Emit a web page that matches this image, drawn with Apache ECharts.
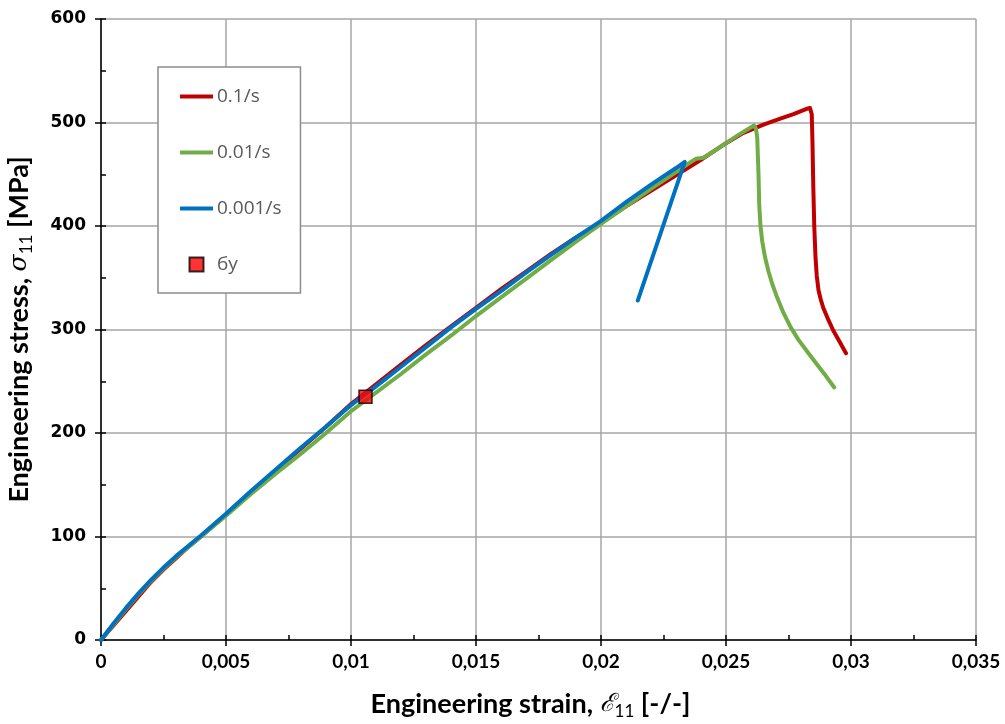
<!DOCTYPE html>
<html>
<head>
<meta charset="utf-8">
<script src="https://cdn.jsdelivr.net/npm/echarts@6/dist/echarts.min.js"></script>
<style>
  html, body { margin: 0; padding: 0; background: #fff; }
  #chart { width: 1005px; height: 724px; }
</style>
</head>
<body>
<div id="chart"></div>
<script>
// Tensile test curves: engineering strain [-] vs engineering stress [MPa]
const rate01 = [
  [0, 0], [0.0005, 14], [0.001, 28], [0.0015, 42], [0.002, 56], [0.0025, 68],
  [0.003, 79], [0.0035, 90], [0.004, 100], [0.005, 121], [0.006, 143],
  [0.007, 164], [0.008, 185], [0.009, 206], [0.01, 228], [0.011, 247],
  [0.012, 266], [0.013, 285], [0.014, 303], [0.015, 321], [0.016, 339],
  [0.017, 356], [0.018, 373], [0.019, 389], [0.02, 403], [0.021, 419],
  [0.022, 434], [0.023, 449], [0.024, 464], [0.025, 480], [0.0257, 490],
  [0.0265, 498], [0.0272, 504], [0.0277, 508], [0.0282, 513], [0.02836, 514],
  [0.02843, 508], [0.02846, 480], [0.02849, 440], [0.02853, 400], [0.02858, 370],
  [0.02863, 352], [0.0287, 338], [0.02879, 329], [0.02889, 321], [0.0291, 309],
  [0.02929, 299], [0.02955, 288], [0.0298, 277]
];
const rate001 = [
  [0, 0], [0.0005, 15], [0.001, 30], [0.0015, 44], [0.002, 57], [0.0025, 69],
  [0.003, 80], [0.0035, 90], [0.004, 100], [0.005, 120], [0.006, 141],
  [0.007, 161], [0.008, 180], [0.009, 200], [0.01, 221], [0.011, 239],
  [0.012, 257], [0.013, 276], [0.014, 294], [0.015, 313], [0.016, 331],
  [0.017, 349], [0.018, 367], [0.019, 385], [0.02, 402], [0.021, 419],
  [0.022, 436], [0.023, 452], [0.0236, 462], [0.0238, 465], [0.0241, 466],
  [0.0245, 472], [0.025, 480], [0.0255, 488], [0.0259, 494], [0.02612, 497],
  [0.0262, 494], [0.02625, 485], [0.0263, 450], [0.02633, 420], [0.02638, 400],
  [0.02645, 385], [0.02656, 370], [0.0267, 356], [0.02685, 344], [0.02703, 332],
  [0.0273, 316], [0.02759, 302], [0.0279, 290], [0.0283, 277], [0.02868, 265],
  [0.029, 255], [0.02933, 244]
];
const rate0001 = [
  [0, 0], [0.0005, 16], [0.001, 31], [0.0015, 45], [0.002, 58], [0.0025, 70],
  [0.003, 81], [0.0035, 91], [0.004, 101], [0.005, 122], [0.006, 144],
  [0.007, 165], [0.008, 186], [0.009, 206], [0.01, 227], [0.011, 245],
  [0.012, 264], [0.013, 283], [0.014, 302], [0.015, 320], [0.016, 337],
  [0.017, 355], [0.018, 372], [0.019, 389], [0.02, 405], [0.021, 423],
  [0.022, 440], [0.023, 456], [0.02335, 462], [0.0231, 444], [0.02223, 382],
  [0.02147, 328]
];
const yieldPoint = [[0.01058, 235]];

const seriesNames = ['0.1/s', '0.01/s', '0.001/s', 'бy'];
const seriesColors = ['#C00000', '#70AD47', '#0070C0'];

const xTicks = { min: 0, max: 0.035, major: 0.005, minor: 0.0025 };
const yTicks = { min: 0, max: 600, major: 100, minor: 50 };

const fmtStrain = v => v === 0 ? '0' : String(+v.toFixed(4)).replace('.', ',');

const chart = echarts.init(document.getElementById('chart'), null, { renderer: 'canvas' });

const titleRich = {
  b: { fontFamily: 'Lato', fontWeight: 'bold', fontSize: 27, color: '#000', lineHeight: 32 },
  g: { fontFamily: 'DejaVu Serif', fontStyle: 'italic', fontSize: 25, color: '#000', lineHeight: 32 },
  s: { fontFamily: 'Lato', fontWeight: 'normal', fontSize: 17, color: '#000', lineHeight: 17, verticalAlign: 'bottom' }
};

const lineIcon = 'path://M0,0 H33 V4 H0 Z';
const squareIcon = 'path://M0,0 H10 V10 H0 Z';

const lineSeries = [rate01, rate001, rate0001].map((d, i) => ({
  name: seriesNames[i],
  type: 'line',
  data: d,
  symbol: 'none',
  lineStyle: { width: 4, color: seriesColors[i], cap: 'round', join: 'round' },
  itemStyle: { color: seriesColors[i] },
  z: 2 + i
}));

chart.setOption({
  animation: false,
  grid: { left: 101, right: 29, top: 19, bottom: 84, containLabel: false, outerBoundsMode: 'none' },
  legend: {
    orient: 'vertical',
    left: 158,
    top: 67,
    padding: [20, 19, 19, 22],
    itemWidth: 33,
    itemHeight: 14,
    itemGap: 37,
    backgroundColor: '#fff',
    borderColor: '#8C8C8C',
    borderWidth: 1.5,
    borderRadius: 0,
    textStyle: { fontFamily: 'Open Sans', fontSize: 19, color: '#595959', padding: [0, 0, 0, -1] },
    data: [
      { name: seriesNames[0], icon: lineIcon },
      { name: seriesNames[1], icon: lineIcon },
      { name: seriesNames[2], icon: lineIcon },
      { name: seriesNames[3], icon: squareIcon }
    ]
  },
  xAxis: [
    {
      type: 'value',
      min: xTicks.min, max: xTicks.max, interval: xTicks.major,
      name: '{b|Engineering strain, }{g|ℰ}{s|11}{b| [-/-]}',
      nameLocation: 'middle',
      nameGap: 48,
      nameTextStyle: { rich: titleRich, padding: [0, 16, 0, 0] },
      axisLine: { show: true, onZero: false, lineStyle: { color: '#000', width: 1.5 } },
      axisTick: { show: true, inside: false, length: 6, lineStyle: { color: '#000', width: 1.5 } },
      axisLabel: { margin: 12, formatter: fmtStrain, fontFamily: 'Lato', fontWeight: 'bold', fontSize: 19, color: '#000' },
      splitLine: { show: true, lineStyle: { color: '#A6A6A6', width: 1.5 } }
    },
    {
      type: 'value',
      min: xTicks.min, max: xTicks.max, interval: xTicks.minor,
      position: 'bottom',
      axisLine: { show: false },
      axisTick: { show: true, inside: true, length: 5, lineStyle: { color: '#000', width: 1.5 } },
      axisLabel: { show: false },
      splitLine: { show: false }
    }
  ],
  yAxis: [
    {
      type: 'value',
      min: yTicks.min, max: yTicks.max, interval: yTicks.major,
      name: '{b|Engineering stress, }{g|σ}{s|11}{b| [MPa]}',
      nameLocation: 'middle',
      nameRotate: 90,
      nameGap: 66,
      nameTextStyle: { rich: titleRich },
      axisLine: { show: true, onZero: false, lineStyle: { color: '#000', width: 1.5 } },
      axisTick: { show: true, inside: false, length: 6, lineStyle: { color: '#000', width: 1.5 } },
      axisLabel: { margin: 15, fontFamily: 'DejaVu Sans', fontWeight: 'bold', fontSize: 17, color: '#000' },
      splitLine: { show: true, lineStyle: { color: '#A6A6A6', width: 1.5 } }
    },
    {
      type: 'value',
      min: yTicks.min, max: yTicks.max, interval: yTicks.minor,
      position: 'left',
      axisLine: { show: false },
      axisTick: { show: true, inside: true, length: 5, lineStyle: { color: '#000', width: 1.5 } },
      axisLabel: { show: false },
      splitLine: { show: false }
    }
  ],
  series: lineSeries.concat([{
    name: seriesNames[3],
    type: 'scatter',
    data: yieldPoint,
    symbol: 'rect',
    symbolSize: 13,
    itemStyle: { color: '#FF0000', borderColor: '#000', borderWidth: 1.5 },
    z: 10
  }])
});
</script>
</body>
</html>
